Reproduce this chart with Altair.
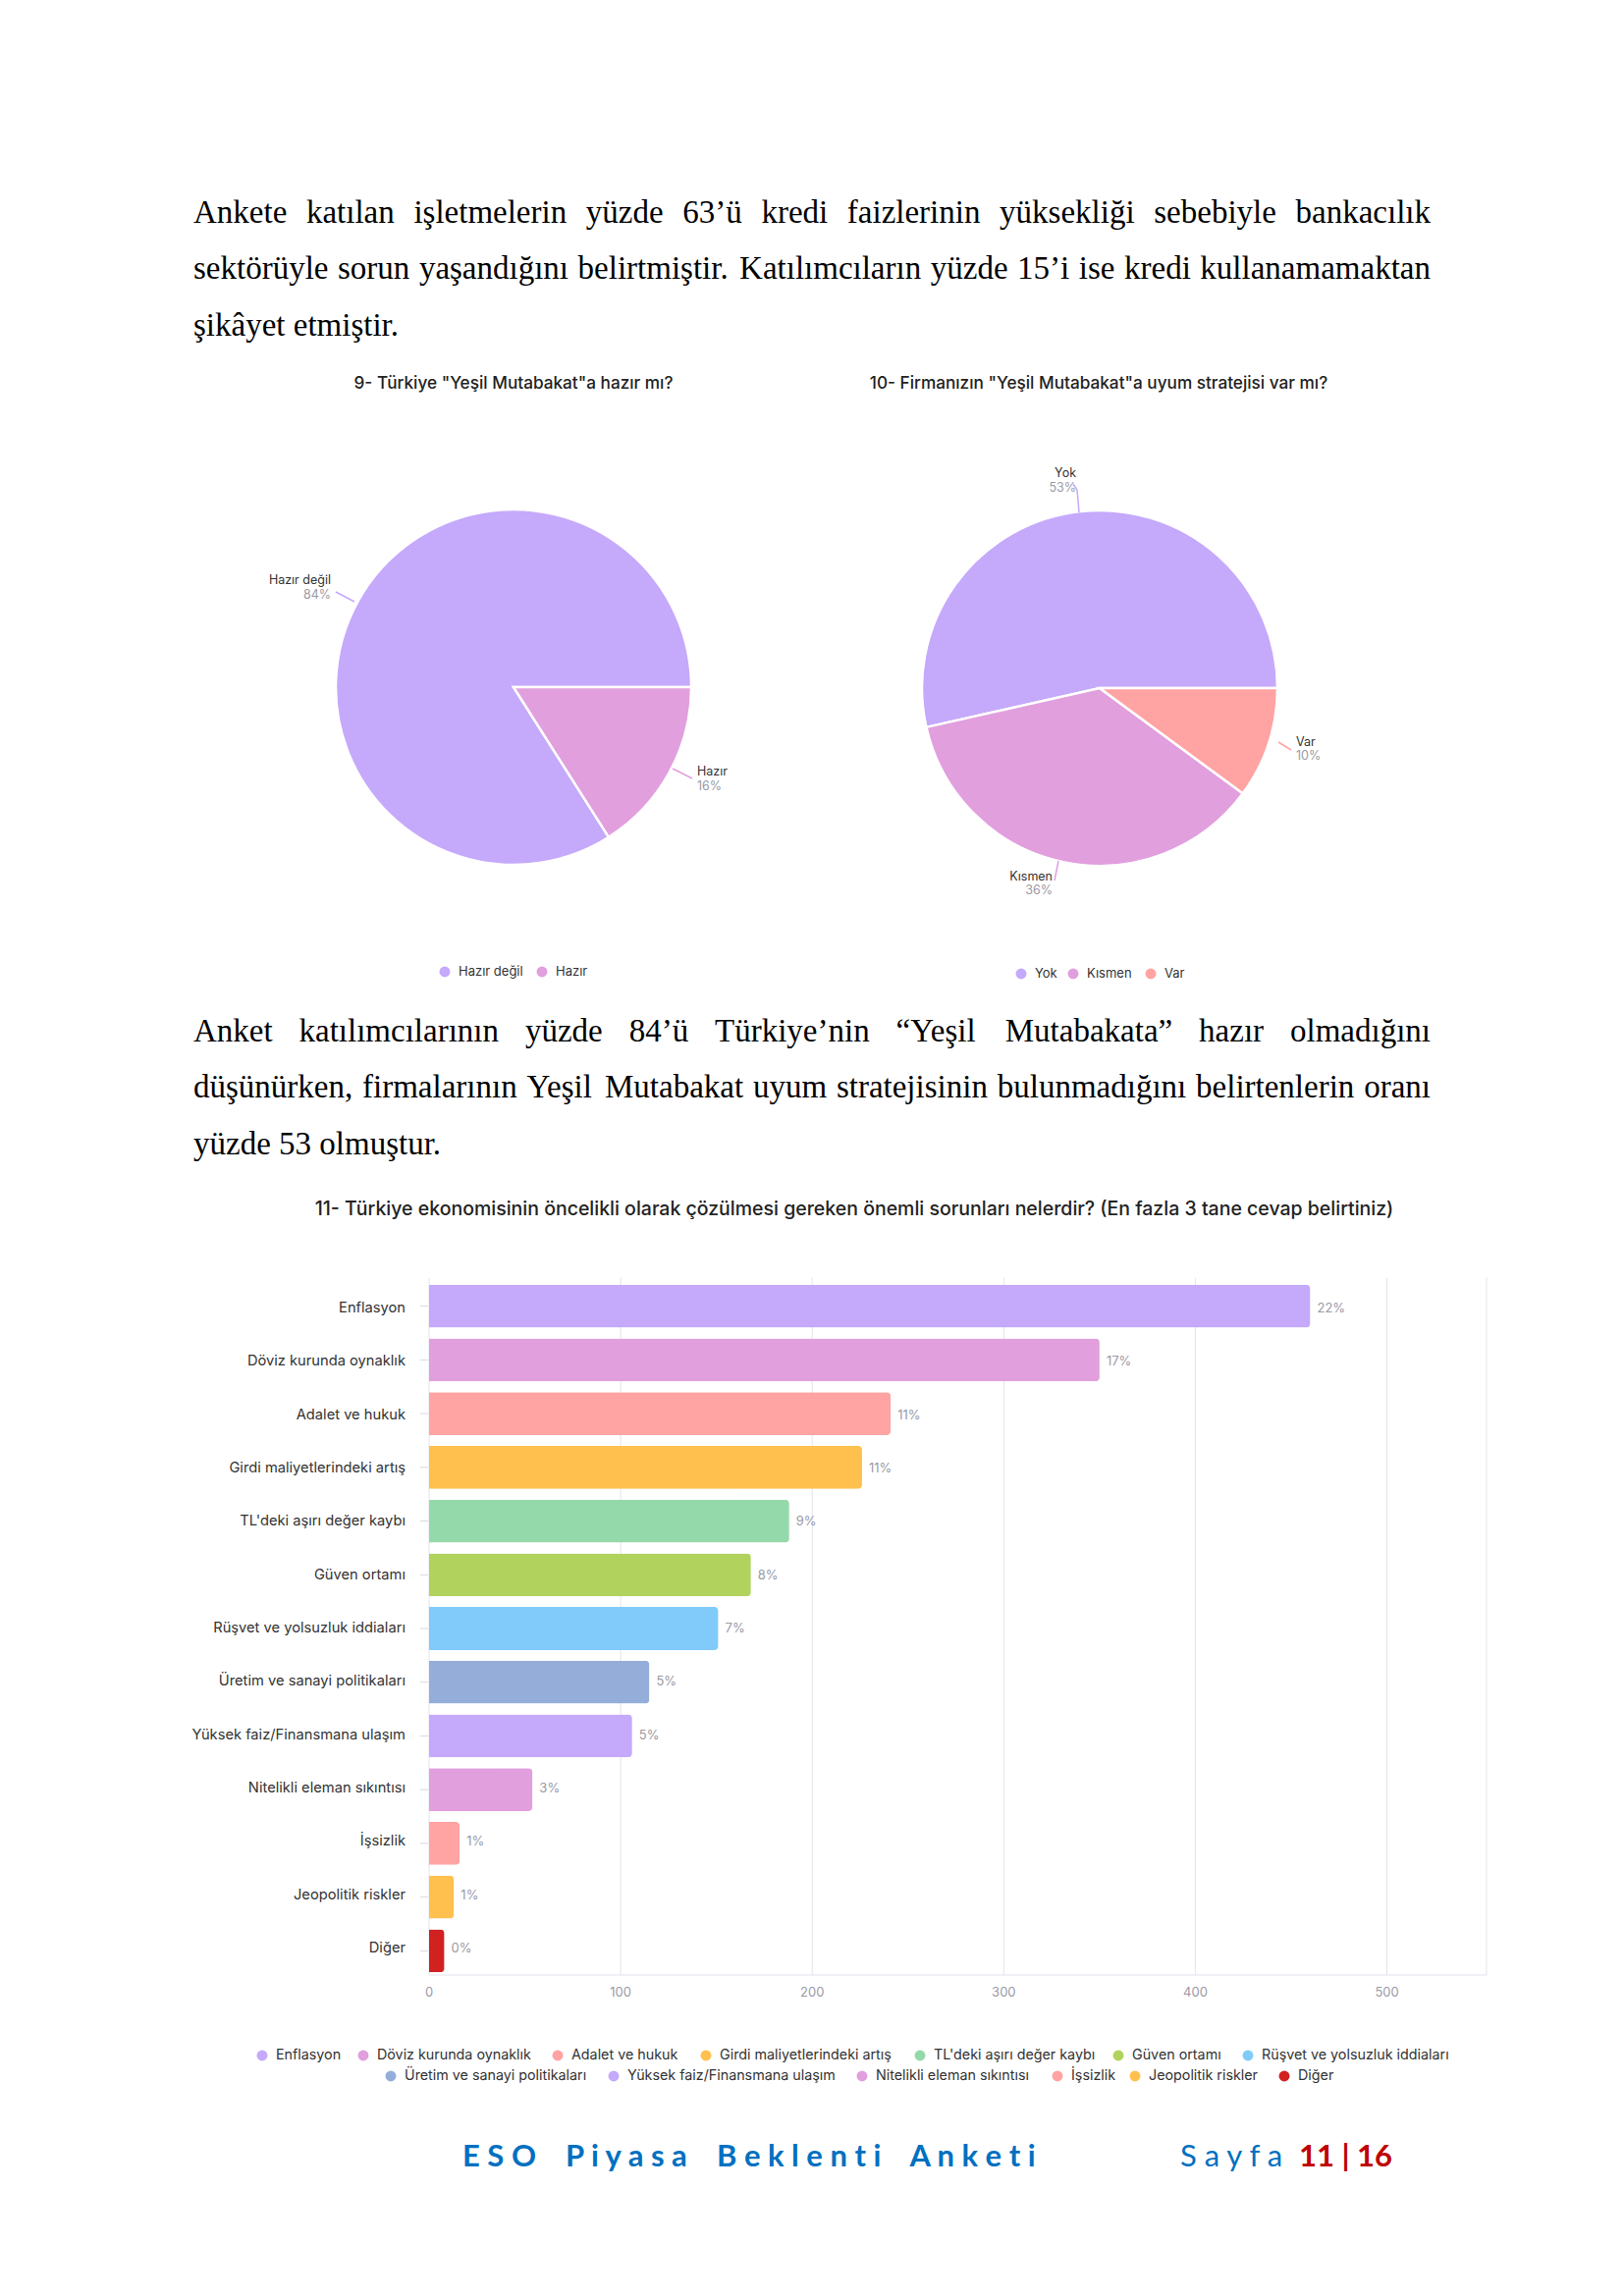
import math
import altair as alt
import pandas as pd

M = 8  # page margin of the html body


def P(v):
    return v - M


# ---------------- data ----------------
para1 = [
    "Ankete katılan işletmelerin yüzde 63’ü kredi faizlerinin yüksekliği sebebiyle bankacılık",
    "sektörüyle sorun yaşandığını belirtmiştir. Katılımcıların yüzde 15’i ise kredi kullanamamaktan",
    "şikâyet etmiştir.",
]
para2 = [
    "Anket katılımcılarının yüzde 84’ü Türkiye’nin “Yeşil Mutabakata” hazır olmadığını",
    "düşünürken, firmalarının Yeşil Mutabakat uyum stratejisinin bulunmadığını belirtenlerin oranı",
    "yüzde 53 olmuştur.",
]

pie1_title = '9- Türkiye "Yeşil Mutabakat"a hazır mı?'
pie1_labels = ["Hazır değil", "Hazır"]
pie1_values = [84, 16]
pie1_pct = ["84%", "16%"]
pie1_colors = ["#C5A9FB", "#E19FDE"]

pie2_title = '10- Firmanızın "Yeşil Mutabakat"a uyum stratejisi var mı?'
pie2_labels = ["Yok", "Kısmen", "Var"]
pie2_values = [53, 36, 10]
pie2_pct = ["53%", "36%", "10%"]
pie2_colors = ["#C5A9FB", "#E19FDE", "#FFA3A3"]

bar_title = "11- Türkiye ekonomisinin öncelikli olarak çözülmesi gereken önemli sorunları nelerdir? (En fazla 3 tane cevap belirtiniz)"
bar_categories = [
    "Enflasyon",
    "Döviz kurunda oynaklık",
    "Adalet ve hukuk",
    "Girdi maliyetlerindeki artış",
    "TL'deki aşırı değer kaybı",
    "Güven ortamı",
    "Rüşvet ve yolsuzluk iddiaları",
    "Üretim ve sanayi politikaları",
    "Yüksek faiz/Finansmana ulaşım",
    "Nitelikli eleman sıkıntısı",
    "İşsizlik",
    "Jeopolitik riskler",
    "Diğer",
]
bar_counts = [460, 350, 241, 226, 188, 168, 151, 115, 106, 54, 16, 13, 8]
bar_pct = ["22%", "17%", "11%", "11%", "9%", "8%", "7%", "5%", "5%", "3%", "1%", "1%", "0%"]
bar_colors = [
    "#C5A9FB", "#E19FDE", "#FFA3A3", "#FFC04E", "#93D9A9", "#B1D35E", "#80CBFA",
    "#94AED9", "#C5A9FB", "#E19FDE", "#FFA3A3", "#FFC04E", "#D12121",
]
x_ticks = [0, 100, 200, 300, 400, 500]

footer_left = "ESO Piyasa Beklenti Anketi"
footer_sayfa = "Sayfa"
footer_page = "11 | 16"

# ---------------- layout helpers ----------------
TW = {
    'a': .444, 'b': .5, 'c': .444, 'd': .5, 'e': .444, 'f': .333, 'g': .5, 'h': .5, 'i': .278,
    'j': .278, 'k': .5, 'l': .278, 'm': .778, 'n': .5, 'o': .5, 'p': .5, 'q': .5, 'r': .333,
    's': .389, 't': .278, 'u': .5, 'v': .5, 'w': .722, 'x': .5, 'y': .5, 'z': .444,
    'ı': .278, 'ş': .389, 'ç': .444, 'ğ': .5, 'ö': .5, 'ü': .5, 'â': .444,
    'A': .722, 'B': .667, 'C': .667, 'D': .722, 'E': .611, 'F': .556, 'G': .722, 'H': .722,
    'I': .333, 'J': .389, 'K': .722, 'L': .611, 'M': .889, 'N': .722, 'O': .722, 'P': .556,
    'R': .667, 'S': .556, 'T': .611, 'U': .722, 'V': .722, 'W': .944, 'Y': .722, 'Z': .611,
    '.': .25, ',': .25, '’': .333, '“': .444, '”': .444, "'": .18,
}


def text_width(s, fs):
    return sum(TW.get(ch, 0.5) for ch in s) * fs


FS = 33
LEFT, RIGHT = 197, 1457

word_rows = []
for lines, baselines in ((para1, [227, 284, 342]), (para2, [1061, 1118, 1176])):
    for i, (line, yb) in enumerate(zip(lines, baselines)):
        words = line.split(" ")
        widths = [text_width(w, FS) for w in words]
        if i == len(lines) - 1:
            gap = 0.25 * FS
        else:
            gap = (RIGHT - LEFT - sum(widths)) / (len(words) - 1)
        xx = LEFT
        for w, wd in zip(words, widths):
            word_rows.append({"w": w, "px": P(xx), "py": P(yb)})
            xx += wd + gap
para_df = pd.DataFrame(word_rows)


def XY(xf="px", yf="py"):
    return dict(x=alt.X(f"{xf}:Q", scale=None, axis=None), y=alt.Y(f"{yf}:Q", scale=None, axis=None))


layers = []

# paragraphs
layers.append(
    alt.Chart(para_df).mark_text(align="left", baseline="alphabetic", font="Liberation Serif",
                                 fontSize=FS, color="#000000").encode(text="w:N", **XY())
)

# pie titles
ptitle_df = pd.DataFrame({"t": [pie1_title, pie2_title], "px": [P(523), P(1119)], "py": [P(391), P(391)]})
layers.append(
    alt.Chart(ptitle_df).mark_text(align="center", baseline="middle", font="Inter", fontSize=17.2,
                                   fontWeight=500, color="#222222").encode(text="t:N", **XY())
)


def pie(labels, values, colors, cx, cy):
    df = pd.DataFrame({"k": labels, "v": values, "c": colors, "o": list(range(len(labels)))})
    return alt.Chart(df).mark_arc(radius=181, stroke="white", strokeWidth=2.5).encode(
        theta=alt.Theta("v:Q", stack=True, scale=alt.Scale(range=[2.5 * math.pi, 0.5 * math.pi])),
        color=alt.Color("c:N", scale=None, legend=None),
        order=alt.Order("o:Q"),
        x=alt.value(P(cx)),
        y=alt.value(P(cy)),
    )


layers.append(pie(pie1_labels, pie1_values, pie1_colors, 523, 700))
layers.append(pie(pie2_labels, pie2_values, pie2_colors, 1120, 701))

# pie slice labels (name dark, percentage grey)
lab_right = pd.DataFrame({
    "t": [pie1_labels[0], pie1_pct[0], pie2_labels[0], pie2_pct[0], pie2_labels[1], pie2_pct[1]],
    "c": ["#333333", "#9a9aa6"] * 3,
    "px": [P(337), P(337), P(1096), P(1096), P(1072), P(1072)],
    "py": [P(591), P(606), P(482), P(497), P(893), P(907)],
})
lab_left = pd.DataFrame({
    "t": [pie1_labels[1], pie1_pct[1], pie2_labels[2], pie2_pct[2]],
    "c": ["#333333", "#9a9aa6"] * 2,
    "px": [P(710), P(710), P(1320), P(1320)],
    "py": [P(786), P(801), P(756), P(770)],
})
for df, al in ((lab_right, "right"), (lab_left, "left")):
    layers.append(
        alt.Chart(df).mark_text(align=al, baseline="middle", font="Inter", fontSize=12.5).encode(
            text="t:N", color=alt.Color("c:N", scale=None, legend=None), **XY())
    )

# leader lines
lead_df = pd.DataFrame({
    "x1": [P(342), P(685), P(1093), P(1097), P(1302), P(1078)],
    "y1": [P(603), P(783), P(493), P(499), P(756), P(877)],
    "x2": [P(361), P(705), P(1097), P(1099), P(1315), P(1074)],
    "y2": [P(613), P(793), P(499), P(522), P(764), P(897)],
    "c": [pie1_colors[0], pie1_colors[1], pie2_colors[0], pie2_colors[0], pie2_colors[2], pie2_colors[1]],
})
layers.append(
    alt.Chart(lead_df).mark_rule(strokeWidth=1.5).encode(
        x=alt.X("x1:Q", scale=None, axis=None), y=alt.Y("y1:Q", scale=None, axis=None),
        x2="x2:Q", y2="y2:Q", color=alt.Color("c:N", scale=None, legend=None))
)

# pie legends
pleg = pd.DataFrame({
    "t": pie1_labels + pie2_labels,
    "c": pie1_colors + pie2_colors,
    "px": [P(453), P(552), P(1040), P(1093), P(1172)],
    "py": [P(990), P(990), P(992), P(992), P(992)],
})
pleg["tx"] = pleg["px"] + 14
layers.append(
    alt.Chart(pleg).mark_point(shape="circle", filled=True, size=120, opacity=1).encode(
        color=alt.Color("c:N", scale=None, legend=None), **XY())
)
layers.append(
    alt.Chart(pleg).mark_text(align="left", baseline="middle", font="Inter", fontSize=13,
                              color="#333333").encode(text="t:N", **XY("tx", "py"))
)

# ---------------- bar chart ----------------
X0, X1 = 437, 1514
Y0, Y1 = 1302, 2012
xscale = alt.Scale(domain=[0, 552], range=[P(X0), P(X1)], nice=False, zero=True)
yscale = alt.Scale(domain=bar_categories, range=[P(1306), P(Y1)], paddingInner=0.2, paddingOuter=0.05)

bar_df = pd.DataFrame({"cat": bar_categories, "n": bar_counts, "pct": bar_pct, "col": bar_colors})
tick_df = pd.DataFrame({"t": x_ticks, "lab": [str(t) for t in x_ticks]})

layers.append(
    alt.Chart(pd.DataFrame({"t": [bar_title], "px": [P(870)], "py": [P(1232)]})).mark_text(
        align="center", baseline="middle", font="Inter", fontSize=19.5, fontWeight=500,
        color="#222222").encode(text="t:N", **XY())
)
# grid lines
layers.append(
    alt.Chart(tick_df).mark_rule(color="#e3e3ec", strokeWidth=1).encode(
        x=alt.X("t:Q", scale=xscale, axis=None), y=alt.value(P(Y0)), y2=alt.value(P(Y1)))
)
# right border and bottom axis line
layers.append(
    alt.Chart(pd.DataFrame({"t": [0]})).mark_rule(color="#e3e3ec", strokeWidth=1).encode(
        x=alt.value(P(X1)), y=alt.value(P(Y0)), y2=alt.value(P(Y1)))
)
layers.append(
    alt.Chart(pd.DataFrame({"t": [0]})).mark_rule(color="#e3e3ec", strokeWidth=1).encode(
        x=alt.value(P(X0)), x2=alt.value(P(X1)), y=alt.value(P(Y1)))
)
# bars
layers.append(
    alt.Chart(bar_df).mark_bar(cornerRadiusEnd=4).encode(
        x=alt.X("n:Q", scale=xscale, axis=None),
        y=alt.Y("cat:N", scale=yscale, sort=bar_categories, axis=None),
        color=alt.Color("col:N", scale=None, legend=None))
)
# value labels
layers.append(
    alt.Chart(bar_df).mark_text(align="left", baseline="middle", dx=7, font="Inter", fontSize=13,
                                color="#9a9aa6").encode(
        x=alt.X("n:Q", scale=xscale, axis=None),
        y=alt.Y("cat:N", scale=yscale, sort=bar_categories, axis=None),
        text="pct:N")
)
# category labels and ticks
layers.append(
    alt.Chart(bar_df).mark_text(align="right", baseline="middle", font="Inter", fontSize=14.7,
                                color="#333333").encode(
        x=alt.value(P(413)),
        y=alt.Y("cat:N", scale=yscale, sort=bar_categories, axis=None),
        text="cat:N")
)
layers.append(
    alt.Chart(bar_df).mark_rule(color="#d8d8e0", strokeWidth=1).encode(
        x=alt.value(P(428)), x2=alt.value(P(436)),
        y=alt.Y("cat:N", scale=yscale, sort=bar_categories, axis=None))
)
# x tick labels
layers.append(
    alt.Chart(tick_df).mark_text(align="center", baseline="middle", font="Inter", fontSize=13,
                                 color="#9a9aa6").encode(
        x=alt.X("t:Q", scale=xscale, axis=None), y=alt.value(P(2030)), text="lab:N")
)

# bar legend
leg_x = [267, 370, 568, 719, 937, 1139, 1271, 398, 625, 878, 1077, 1156, 1308]
leg_y = [2094] * 7 + [2115] * 6
bleg = pd.DataFrame({
    "t": bar_categories, "c": bar_colors,
    "px": [P(v) for v in leg_x], "py": [P(v) for v in leg_y],
})
bleg["tx"] = bleg["px"] + 14
layers.append(
    alt.Chart(bleg).mark_point(shape="circle", filled=True, size=120, opacity=1).encode(
        color=alt.Color("c:N", scale=None, legend=None), **XY())
)
layers.append(
    alt.Chart(bleg).mark_text(align="left", baseline="middle", font="Inter", fontSize=14.3,
                              color="#333333").encode(text="t:N", **XY("tx", "py"))
)

# ---------------- footer ----------------
NB = "\u00a0"


def spaced(s):
    return (NB).join(ch if ch != " " else NB * 2 for ch in s)


layers.append(
    alt.Chart(pd.DataFrame({"t": [spaced(footer_left)], "px": [P(471)], "py": [P(2207)]})).mark_text(
        align="left", baseline="alphabetic", font="Lato", fontSize=31, fontWeight="bold",
        color="#0070C0").encode(text="t:N", **XY())
)
layers.append(
    alt.Chart(pd.DataFrame({"t": [spaced(footer_sayfa)], "px": [P(1202)], "py": [P(2207)]})).mark_text(
        align="left", baseline="alphabetic", font="Lato", fontSize=31,
        color="#0070C0").encode(text="t:N", **XY())
)
layers.append(
    alt.Chart(pd.DataFrame({"t": [footer_page.replace(" ", NB)], "px": [P(1323)], "py": [P(2207)]})).mark_text(
        align="left", baseline="alphabetic", font="Lato", fontSize=31, fontWeight="bold",
        color="#C00000").encode(text="t:N", **XY())
)

chart = (
    alt.layer(*layers)
    .properties(width=1638, height=2323, padding=0, background="white",
                autosize=alt.AutoSizeParams(type="none"))
    .resolve_scale(x="independent", y="independent", theta="independent")
    .configure_view(stroke=None)
)

chart.save("out.html", embed_options={"renderer": "svg", "actions": False})
